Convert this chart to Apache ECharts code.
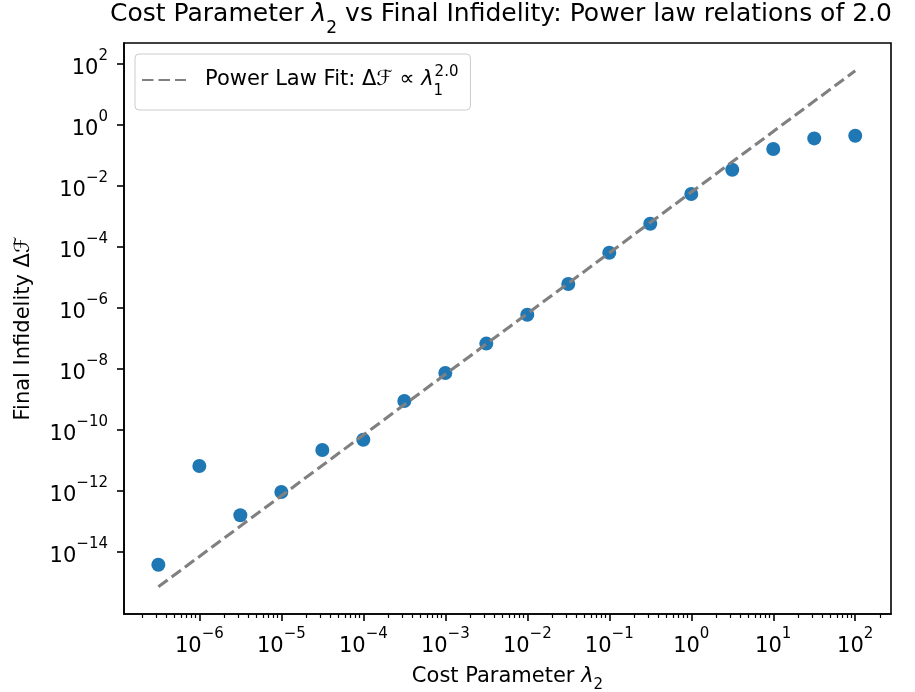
<!DOCTYPE html>
<html>
<head>
<meta charset="utf-8">
<script src="https://cdn.jsdelivr.net/npm/echarts@6/dist/echarts.min.js"></script>
<style>
  html, body { margin: 0; padding: 0; background: #ffffff; }
  #chart { width: 915px; height: 692px; }
</style>
</head>
<body>
<div id="chart"></div>
<script>
// Cost parameter λ2 (half-decade steps) and the final infidelity reached at each
const lambdaValues = [3.162e-7, 1e-6, 3.162e-6, 1e-5, 3.162e-5, 1e-4, 3.162e-4, 1e-3, 3.162e-3,
                      1e-2, 3.162e-2, 1e-1, 3.162e-1, 1, 3.162, 10, 31.62, 100];
const infidelityValues = [3.8e-15, 6.6e-12, 1.6e-13, 9.3e-13, 2.2e-11, 4.8e-11, 8.9e-10, 7.4e-9, 6.8e-8,
                          6.0e-7, 6.1e-6, 6.5e-5, 5.8e-4, 5.5e-3, 3.4e-2, 0.163, 0.364, 0.446];

// End points of the fitted power law (slope 2.0 on log-log axes)
const fitLambda = [3.162e-7, 100];
const fitInfidelity = [7.2e-16, 60];

// Tick positions
const xMajorTicks = [1e-6, 1e-5, 1e-4, 1e-3, 1e-2, 1e-1, 1, 10, 100];
const yMajorTicks = [1e-14, 1e-12, 1e-10, 1e-8, 1e-6, 1e-4, 1e-2, 1, 100];

const X_MIN = 1.205e-7, X_MAX = 273;
const Y_MIN = 9.27e-17, Y_MAX = 489;

// Minor ticks at 2..9 × 10^d inside the x range
const xMinorTicks = [];
for (let d = -7; d <= 2; d++) {
  for (let k = 2; k <= 9; k++) {
    const v = k * Math.pow(10, d);
    if (v >= X_MIN && v <= X_MAX) xMinorTicks.push(v);
  }
}

const FONT = 'DejaVu Sans';
const TXT = '#000000';

function pow10Label(v) {
  const e = Math.round(Math.log10(v));
  return '{b|10}{s|' + (e < 0 ? '\u2212' + (-e) : String(e)) + '}';
}

const tickRich = {
  b: { fontFamily: FONT, fontSize: 21, color: TXT, lineHeight: 30, verticalAlign: 'bottom' },
  s: { fontFamily: FONT, fontSize: 15, color: TXT, lineHeight: 15, verticalAlign: 'top' }
};

const chart = echarts.init(document.getElementById('chart'), null, { renderer: 'canvas' });

const scatterData = lambdaValues.map((x, i) => [x, infidelityValues[i]]);
const fitData = fitLambda.map((x, i) => [x, fitInfidelity[i]]);

chart.setOption({
  animation: false,
  backgroundColor: '#ffffff',
  title: {
    text: '{n|Cost Parameter }{i|\u03bb}{sub|2}{n| vs Final Infidelity: Power law relations of 2.0}',
    left: 110,
    top: 2,
    padding: 0,
    textStyle: {
      fontWeight: 'normal',
      rich: {
        n: { fontFamily: FONT, fontSize: 25, fontWeight: 'normal', color: TXT, lineHeight: 34, verticalAlign: 'top' },
        i: { fontFamily: FONT, fontSize: 25, fontWeight: 'normal', fontStyle: 'italic', color: TXT, lineHeight: 34, verticalAlign: 'top' },
        sub: { fontFamily: FONT, fontSize: 17, fontWeight: 'normal', color: TXT, lineHeight: 17, verticalAlign: 'bottom', padding: [0, 0, -1, 0] }
      }
    }
  },
  legend: {
    left: 135,
    top: 54,
    orient: 'vertical',
    padding: [11, 12, 11, 6],
    itemWidth: 44,
    itemHeight: 14,
    backgroundColor: 'rgba(255,255,255,0.8)',
    borderColor: '#cccccc',
    borderWidth: 1,
    borderRadius: 4,
    itemStyle: { color: 'rgba(0,0,0,0)', borderWidth: 0, opacity: 0 },
    data: ['fit'],
    formatter: function () {
      return '{n|Power Law Fit: \u0394\u2131 \u221d }{i|\u03bb}{sub|1}{sup|2.0}';
    },
    textStyle: {
      rich: {
        n: { fontFamily: FONT, fontSize: 21, color: TXT, lineHeight: 30, verticalAlign: 'middle', padding: [0, 0, 0, 14] },
        i: { fontFamily: FONT, fontSize: 21, fontStyle: 'italic', color: TXT, lineHeight: 30, verticalAlign: 'middle' },
        sub: { fontFamily: FONT, fontSize: 15, color: TXT, lineHeight: 15, verticalAlign: 'bottom', width: 1, align: 'left', padding: [0, 0, -4, 0] },
        sup: { fontFamily: FONT, fontSize: 15, color: TXT, lineHeight: 15, verticalAlign: 'top' }
      }
    }
  },
  grid: {
    left: 124,
    right: 24,
    top: 43,
    bottom: 78,
    outerBoundsMode: 'none',
    show: true,
    borderColor: '#000000',
    borderWidth: 1.6,
    backgroundColor: 'transparent'
  },
  xAxis: [
    {
      type: 'log',
      logBase: 10,
      min: X_MIN,
      max: X_MAX,
      position: 'bottom',
      axisLine: { show: true, onZero: false, lineStyle: { color: '#000', width: 1.6 } },
      axisTick: { show: true, customValues: xMajorTicks, length: 7, lineStyle: { color: '#000', width: 1.6 } },
      axisLabel: {
        customValues: xMajorTicks,
        formatter: pow10Label,
        margin: 13,
        rich: tickRich
      },
      splitLine: { show: false },
      name: '{n|Cost Parameter }{i|\u03bb}{sub|2}',
      nameLocation: 'middle',
      nameGap: 52,
      nameTextStyle: {
        rich: {
          n: { fontFamily: FONT, fontSize: 21, color: TXT, lineHeight: 26, verticalAlign: 'top' },
          i: { fontFamily: FONT, fontSize: 21, fontStyle: 'italic', color: TXT, lineHeight: 26, verticalAlign: 'top' },
          sub: { fontFamily: FONT, fontSize: 15, color: TXT, lineHeight: 15, verticalAlign: 'bottom', padding: [0, 0, -1, 0] }
        }
      }
    },
    {
      type: 'log',
      logBase: 10,
      min: X_MIN,
      max: X_MAX,
      position: 'bottom',
      axisLine: { show: false, onZero: false },
      axisTick: { show: true, customValues: xMinorTicks, length: 4, lineStyle: { color: '#000', width: 1.2 } },
      axisLabel: { show: false },
      splitLine: { show: false }
    }
  ],
  yAxis: {
    type: 'log',
    logBase: 10,
    min: Y_MIN,
    max: Y_MAX,
    axisLine: { show: true, onZero: false, lineStyle: { color: '#000', width: 1.6 } },
    axisTick: { show: true, customValues: yMajorTicks, length: 7, lineStyle: { color: '#000', width: 1.6 } },
    axisLabel: {
      customValues: yMajorTicks,
      formatter: pow10Label,
      margin: 16,
      rich: tickRich
    },
    splitLine: { show: false },
    name: 'Final Infidelity \u0394\u2131',
    nameLocation: 'middle',
    nameGap: 90,
    nameTextStyle: { fontFamily: FONT, fontSize: 21, color: TXT }
  },
  series: [
    {
      type: 'scatter',
      name: 'data',
      xAxisIndex: 0,
      yAxisIndex: 0,
      data: scatterData,
      symbol: 'circle',
      symbolSize: 14,
      itemStyle: { color: '#1f77b4', opacity: 1 },
      z: 2
    },
    {
      type: 'line',
      name: 'fit',
      xAxisIndex: 0,
      yAxisIndex: 0,
      data: fitData,
      symbol: 'none',
      lineStyle: { color: '#808080', width: 3.1, type: [11.5, 5] },
      itemStyle: { color: '#808080' },
      z: 3
    }
  ]
});
</script>
</body>
</html>
